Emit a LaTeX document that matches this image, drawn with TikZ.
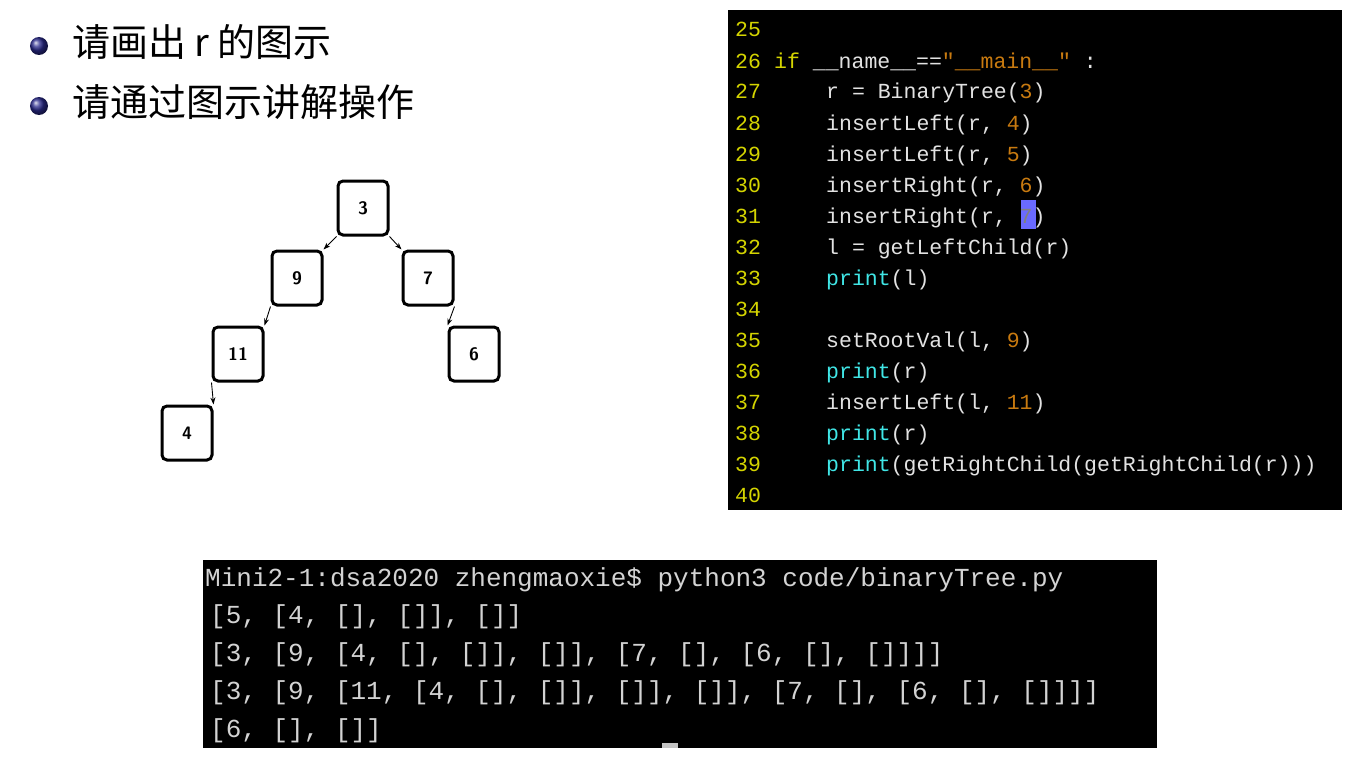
\documentclass[tikz,border=0pt]{standalone}
\usepackage{fontspec}
\setmainfont{Noto Sans}
\newfontfamily\cjk{Noto Sans CJK SC}
\newfontfamily\codef{Liberation Mono}
\usetikzlibrary{arrows.meta}
\definecolor{lnum}{HTML}{D4D400}
\definecolor{codetx}{HTML}{E2E2E2}
\definecolor{numc}{HTML}{C87A10}
\definecolor{prc}{HTML}{40E6E6}
\definecolor{strc}{HTML}{C87A10}
\definecolor{hl}{HTML}{6A6AFF}
\definecolor{ballc}{HTML}{2A2A8C}
\tikzset{
 treenode/.style={draw=black,line width=3pt,rounded corners=5pt,minimum width=50pt,minimum height=54pt,font=\sffamily\bfseries\fontsize{18}{20}\selectfont},
 edge/.style={-{Stealth[length=7pt,width=5pt]},line width=0.9pt},
 codeln/.style={anchor=base west,inner sep=0pt,font=\codef\fontsize{21.5}{24}\selectfont,text=codetx},
 termln/.style={anchor=base west,inner sep=0pt,font=\codef\fontsize{26}{28}\selectfont,text=codetx!85!gray},
 bullettxt/.style={anchor=west,inner sep=0pt,font=\cjk\fontsize{38}{42}\selectfont}
}
\begin{document}
\begin{tikzpicture}[x=1pt,y=-1pt]
\useasboundingbox (0,0) rectangle (1360,760);
% bullets
\shade[ball color=ballc] (39,46) circle (9pt);
\shade[ball color=ballc] (39,106) circle (9pt);
\node[bullettxt] (b1) at (72,42) {请画出 r 的图示};
\node[bullettxt] (b2) at (72,102) {请通过图示讲解操作};
% tree
\node[treenode] (n3) at (363,208) {3};
\node[treenode] (n9) at (297,278) {9};
\node[treenode] (n7) at (428,278) {7};
\node[treenode] (n11) at (238,354) {11};
\node[treenode] (n6) at (474,354) {6};
\node[treenode] (n4) at (187,433) {4};
\draw[edge] (n3.south west) -- (n9.north east);
\draw[edge] (n3.south east) -- (n7.north west);
\draw[edge] (n9.south west) -- (n11.north east);
\draw[edge] (n7.south east) -- (n6.north west);
\draw[edge] (n11.south west) -- (n4.north east);
% code panel
\fill[black] (728,10) rectangle (1342,510);
\fill[hl] (1021,200) rectangle (1036,229);
\foreach \n [count=\i from 0] in {25,...,40}{
  \node[codeln,text=lnum] (ln\n) at (735,{37+31*\i}) {\n};
}
\node[codeln] (c26) at (774,68) {\textcolor{lnum}{if} \_\_name\_\_==\textcolor{strc}{"\_\_main\_\_"} :};
\node[codeln] (c27) at (826,99) {r = BinaryTree(\textcolor{numc}{3})};
\node[codeln] (c28) at (826,130) {insertLeft(r, \textcolor{numc}{4})};
\node[codeln] (c29) at (826,161) {insertLeft(r, \textcolor{numc}{5})};
\node[codeln] (c30) at (826,192) {insertRight(r, \textcolor{numc}{6})};
\node[codeln] (c31) at (826,223) {insertRight(r, \textcolor{gray}{7})};
\node[codeln] (c32) at (826,254) {l = getLeftChild(r)};
\node[codeln] (c33) at (826,285) {\textcolor{prc}{print}(l)};
\node[codeln] (c35) at (826,347) {setRootVal(l, \textcolor{numc}{9})};
\node[codeln] (c36) at (826,378) {\textcolor{prc}{print}(r)};
\node[codeln] (c37) at (826,409) {insertLeft(l, \textcolor{numc}{11})};
\node[codeln] (c38) at (826,440) {\textcolor{prc}{print}(r)};
\node[codeln] (c39) at (826,471) {\textcolor{prc}{print}(getRightChild(getRightChild(r)))};
% terminal
\fill[black] (203,560) rectangle (1157,748);
\node[termln] (t1) at (205,586) {Mini2-1:dsa2020 zhengmaoxie\$ python3 code/binaryTree.py};
\node[termln] (t2) at (210,623) {[5, [4, [], []], []]};
\node[termln] (t3) at (210,661) {[3, [9, [4, [], []], []], [7, [], [6, [], []]]]};
\node[termln] (t4) at (210,699) {[3, [9, [11, [4, [], []], []], []], [7, [], [6, [], []]]]};
\node[termln] (t5) at (210,737) {[6, [], []]};
\fill[codetx!70!gray] (662,743) rectangle (678,748);
\end{tikzpicture}
\end{document}
